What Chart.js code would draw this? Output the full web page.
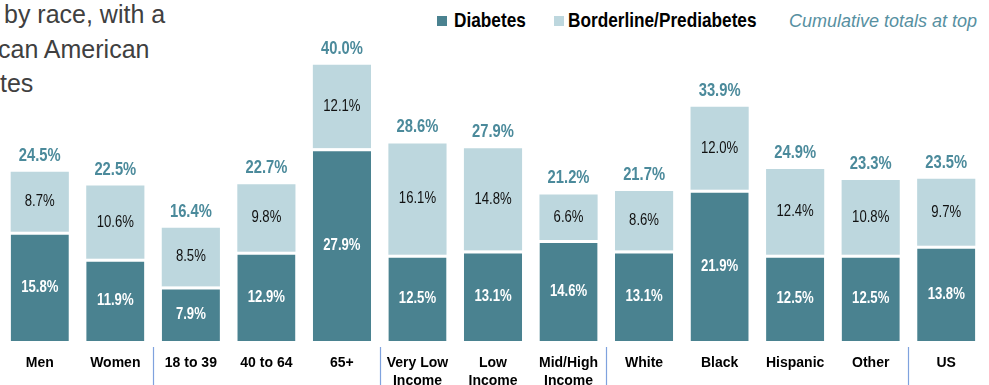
<!DOCTYPE html>
<html>
<head>
<meta charset="utf-8">
<script src="https://cdn.jsdelivr.net/npm/chart.js@4.4.1/dist/chart.umd.min.js"></script>
<style>
  html, body { margin: 0; padding: 0; background: #fff; }
  body { width: 989px; height: 385px; overflow: hidden; position: relative; }
  #intro { position: absolute; left: 4px; top: -3px; font-family: "Liberation Sans", Arial, sans-serif;
           font-size: 25px; line-height: 34.5px; color: #404040; white-space: nowrap; }
  .sw { position: absolute; top: 16px; width: 10px; height: 10px; }
  .lab { position: absolute; top: 8px; font-family: "Liberation Sans", Arial, sans-serif; font-weight: bold;
         font-size: 21px; line-height: 24px; color: #000; transform: scaleX(0.82); transform-origin: 0 0; white-space: nowrap; }
  .note { position: absolute; top: 10px; left: 789px; font-family: "Liberation Sans", Arial, sans-serif; font-style: italic;
          font-size: 18px; line-height: 22px; color: #5790a1; white-space: nowrap; }
  #wrap { position: absolute; left: 0; top: 0; width: 989px; height: 403px; }
</style>
</head>
<body>
<div id="intro">by race, with a<br><span style="margin-left:-6px">can American</span><br><span style="margin-left:-4px">tes</span></div>
<span class="sw" style="left:437px; background:#4a8290"></span><span class="lab" style="left:454px">Diabetes</span>
<span class="sw" style="left:554px; background:#bdd7de"></span><span class="lab" style="left:568px">Borderline/Prediabetes</span>
<span class="note">Cumulative totals at top</span>
<div id="wrap"><canvas id="chart"></canvas></div>
<script>
const categories = [["Men"], ["Women"], ["18 to 39"], ["40 to 64"], ["65+"], ["Very Low", "Income"], ["Low", "Income"],
  ["Mid/High", "Income"], ["White"], ["Black"], ["Hispanic"], ["Other"], ["US"]];
const diabetes = [15.8, 11.9, 7.9, 12.9, 27.9, 12.5, 13.1, 14.6, 13.1, 21.9, 12.5, 12.5, 13.8];
const borderline = [8.7, 10.6, 8.5, 9.8, 12.1, 16.1, 14.8, 6.6, 8.6, 12.0, 12.4, 10.8, 9.7];
const totals = [24.5, 22.5, 16.4, 22.7, 40.0, 28.6, 27.9, 21.2, 21.7, 33.9, 24.9, 23.3, 23.5];
// group dividers sit after these category indexes
const dividersAfter = [1, 4, 7, 11];

const FONT = '"Liberation Sans", Arial, sans-serif';

// narrow-looking text: squeeze Liberation Sans horizontally
function narrowText(ctx, text, x, y, font, color) {
  ctx.save();
  ctx.font = font;
  ctx.fillStyle = color;
  ctx.textAlign = "center";
  ctx.textBaseline = "middle";
  ctx.translate(x, y);
  ctx.scale(0.82, 1);
  ctx.fillText(text, 0, 0);
  ctx.restore();
}

const labelPlugin = {
  id: "labels",
  afterDatasetsDraw(chart) {
    const ctx = chart.ctx;
    const dMeta = chart.getDatasetMeta(0);
    const bMeta = chart.getDatasetMeta(1);
    dMeta.data.forEach((bar, i) => {
      narrowText(ctx, diabetes[i].toFixed(1) + "%", bar.x, (bar.y + bar.base) / 2 + 1, "bold 16px " + FONT, "#ffffff");
    });
    bMeta.data.forEach((bar, i) => {
      narrowText(ctx, borderline[i].toFixed(1) + "%", bar.x, (bar.y + bar.base) / 2, "16px " + FONT, "#111111");
      narrowText(ctx, totals[i].toFixed(1) + "%", bar.x, bar.y - 16, "bold 18px " + FONT, "#4b8a9b");
    });
    // group separators below the axis
    const xs = chart.scales.x;
    ctx.save();
    ctx.strokeStyle = "#7fa2de";
    ctx.lineWidth = 1.2;
    dividersAfter.forEach(i => {
      const x = Math.round((xs.getPixelForValue(i) + xs.getPixelForValue(i + 1)) / 2) + 0.5;
      ctx.beginPath();
      ctx.moveTo(x, chart.chartArea.bottom + 6);
      ctx.lineTo(x, chart.height);
      ctx.stroke();
    });
    ctx.restore();
  }
};

const ctx = document.getElementById("chart").getContext("2d");
new Chart(ctx, {
  type: "bar",
  data: {
    labels: categories,
    datasets: [
      {
        label: "Diabetes",
        data: diabetes,
        backgroundColor: "#4a8290",
        borderColor: "#ffffff",
        borderWidth: { top: 3, left: 0, right: 0, bottom: 0 },
        borderSkipped: false,
      },
      {
        label: "Borderline/Prediabetes",
        data: borderline,
        backgroundColor: "#bdd7de",
        borderWidth: 0,
      },
    ],
  },
  options: {
    responsive: true,
    maintainAspectRatio: false,
    animation: false,
    datasets: { bar: { barPercentage: 0.77, categoryPercentage: 1 } },
    layout: { padding: { left: 2, right: 5, top: 37, bottom: 0 } },
    plugins: { legend: { display: false }, tooltip: { enabled: false } },
    scales: {
      x: {
        stacked: true,
        grid: { display: false, drawTicks: false },
        border: { display: false },
        ticks: {
          padding: 13,
          color: "#000",
          maxRotation: 0,
          autoSkip: false,
          font: { family: FONT, size: 14, weight: "bold", lineHeight: 1.286 },
        },
      },
      y: {
        stacked: true,
        display: false,
        min: 0,
        max: 44,
      },
    },
  },
  plugins: [labelPlugin],
});
</script>
</body>
</html>
